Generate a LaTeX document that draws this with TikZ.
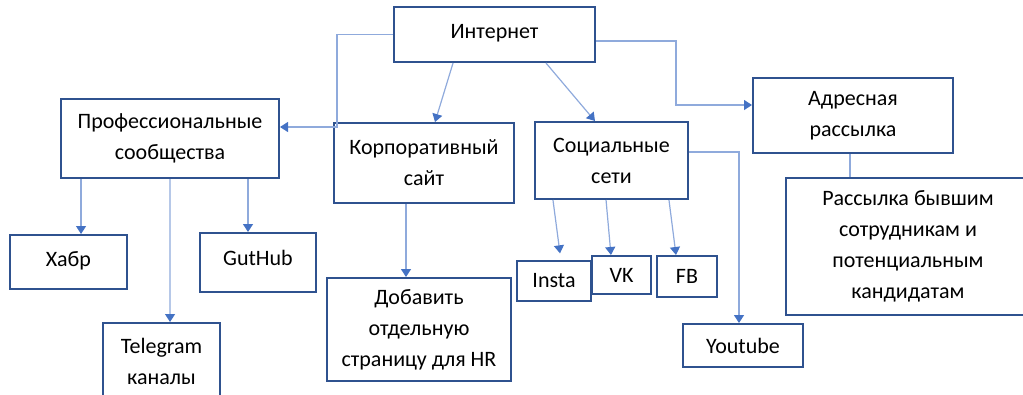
\documentclass[tikz,border=0pt]{standalone}
\usepackage{fontspec}
\setmainfont{Carlito}
\usetikzlibrary{arrows.meta}

\definecolor{boxblue}{RGB}{47,82,143}
\definecolor{linkblue}{RGB}{143,170,220}
\definecolor{tipblue}{RGB}{68,114,196}

\tikzset{every picture/.style={line width=0.75pt}}
\tikzset{
  box/.style={draw=boxblue, line width=1.5pt, fill=white, align=center, inner sep=0pt,
    font=\fontsize{16.5}{23.25}\selectfont},
  link/.style={draw=linkblue, line width=0.9pt},
  arrowlink/.style={link, -{Triangle[width=7.5pt,length=6pt,color=tipblue]}}
}

\begin{document}
\begin{tikzpicture}[x=0.75pt,y=0.75pt,yscale=-1,xscale=1]
\useasboundingbox (0,0) rectangle (1023,394);
\clip (0,0) rectangle (1023,394);

%Boxes
\node [box, minimum width=150.75pt, minimum height=41.25pt, text depth=5pt] (inet) at (494.5,34.5) {Интернет};
\node [box, minimum width=163.5pt, minimum height=59.25pt] (prof) at (170,138.5) {Профессиональные\\сообщества};
\node [box, minimum width=87.75pt, minimum height=40.5pt, text depth=5pt] (habr) at (68.5,262) {Хабр};
\node [box, minimum width=87pt, minimum height=44.25pt, text depth=7pt] (github) at (258,262.5) {GutHub};
\node [box, minimum width=87.75pt, minimum height=57.75pt] (telegram) at (161.5,361.5) {Telegram\\каналы};
\node [box, minimum width=135pt, minimum height=60pt] (korp) at (424,163) {Корпоративный\\сайт};
\node [box, minimum width=138pt, minimum height=77.25pt] (dobav) at (419,329.5) {Добавить\\отдельную\\страницу для HR};
\node [box, minimum width=114.75pt, minimum height=57.75pt] (social) at (611.5,160.5) {Социальные\\сети};
\node [box, minimum width=55.5pt, minimum height=30pt] (insta) at (554,281) {Insta};
\node [box, minimum width=44.25pt, minimum height=28.5pt] (vk) at (621.5,275) {VK};
\node [box, minimum width=45pt, minimum height=30.75pt] (fb) at (687,276.5) {FB};
\node [box, minimum width=90pt, minimum height=32.25pt] (youtube) at (743,345.5) {Youtube};
\node [box, minimum width=150pt, minimum height=56.25pt] (adres) at (853,115.5) {Адресная\\рассылка};
\node [box, minimum width=183pt, minimum height=102.75pt] (mailing) at (908,246.5) {Рассылка бывшим\\сотрудникам и\\потенциальным\\кандидатам};

%Bends
\coordinate (profbend) at (337,127);
\coordinate (adresbend) at (676,105);

%Connectors from Интернет
\draw [arrowlink] (inet.west) -| (profbend) -- (profbend -| prof.east);
\draw [arrowlink] ([xshift=-31.1pt]inet.south) -- ([xshift=8.25pt]korp.north);
\draw [arrowlink] ([xshift=38.6pt]inet.south) -- ([xshift=-12.4pt]social.north);
\draw [arrowlink] ([yshift=4.9pt]inet.east) -| (adresbend) -- (adresbend -| adres.west);

%Connectors from Профессиональные сообщества
\draw [arrowlink] ([xshift=9.4pt]prof.south west -| habr.north) -- ([xshift=9.4pt]habr.north);
\draw [arrowlink] ([xshift=-7.5pt]prof.south west -| github.north) -- ([xshift=-7.5pt]github.north);
\draw [arrowlink] (prof.south) -- ([xshift=6.4pt]telegram.north);

%Connector from Корпоративный сайт
\draw [arrowlink] ([xshift=-13.5pt]korp.south) -- ([xshift=-9.75pt]dobav.north);

%Connectors from Социальные сети
\draw [arrowlink] ([xshift=-43.9pt]social.south) -- ([xshift=4.5pt,yshift=-5pt]insta.north);
\draw [arrowlink] ([xshift=-4.1pt]social.south) -- ([xshift=-7.9pt]vk.north);
\draw [arrowlink] ([xshift=43.1pt]social.south) -- ([xshift=-8.25pt]fb.north);
\draw [arrowlink] ([yshift=-6.4pt]social.east) -| ([xshift=-3pt]youtube.north);

%Адресная рассылка
\draw [link] ([xshift=-2.25pt]adres.south) -- ([xshift=-2.25pt]adres.south |- mailing.north);

\end{tikzpicture}
\end{document}
